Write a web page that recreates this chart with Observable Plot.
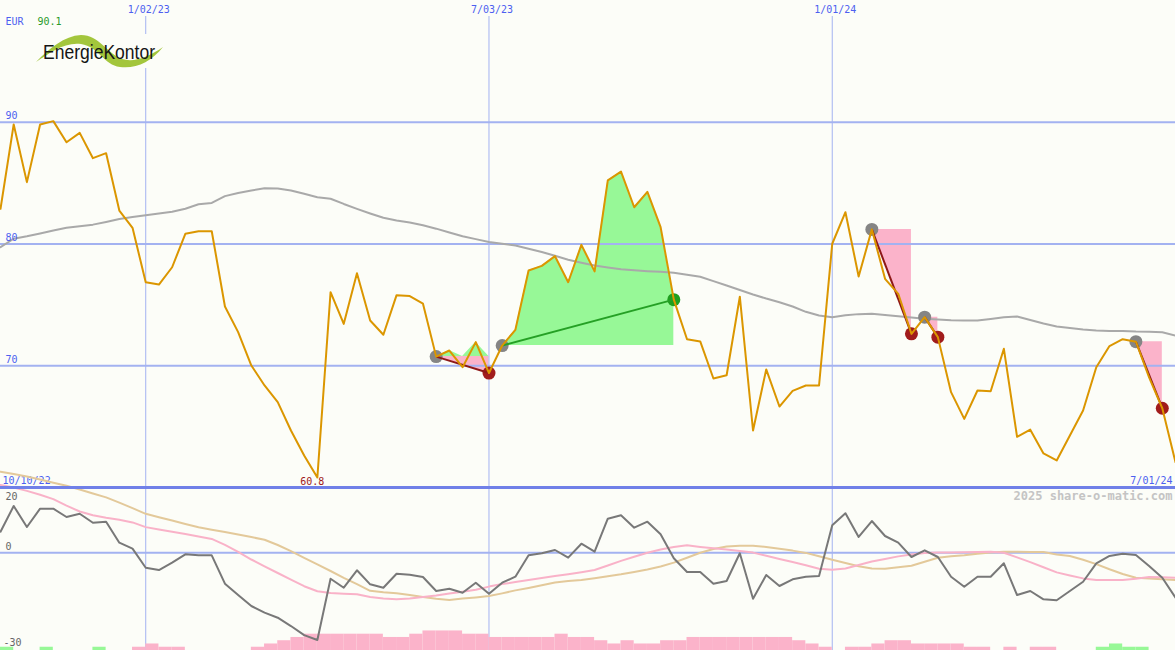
<!DOCTYPE html>
<html>
<head>
<meta charset="utf-8">
<script src="https://cdn.jsdelivr.net/npm/d3@7"></script>
<script src="https://cdn.jsdelivr.net/npm/@observablehq/plot@0.6"></script>
<style>
  body { margin: 0; background: #fcfdf8; }
  #wrap { position: relative; width: 1175px; height: 650px; background: #fcfdf8; overflow: hidden; }
  #top { position: absolute; left: 0; top: 0; }
  #bottom { position: absolute; left: 0; top: 487px; }
  #logo { position: absolute; left: 0; top: 0; pointer-events: none; }
</style>
</head>
<body>
<div id="wrap">
  <div id="top"></div>
  <div id="bottom"></div>
  <svg id="logo" width="200" height="80">
    <rect x="30" y="34" width="136" height="34" fill="#fcfdf8"></rect>
    <path d="M36,62 C50,48 64,36 81,35 C99,35 108,54 122,59 C135,63 150,56 163,47 C151,62 136,69 120,67 C104,65 99,47 81,44 C64,42 50,53 36,62 Z" fill="#a3c63c"></path>
    <text x="43" y="59" font-family="Liberation Sans" font-size="20" textLength="112" lengthAdjust="spacingAndGlyphs" fill="#151515">EnergieKontor</text>
  </svg>
</div>
<script>
// ---------- data ----------
const startWeek = "2022-10-17";
const endWeek = "2024-07-01";
const currency = "EUR";

const price = [82.89, 89.82, 85.08, 89.82, 90.09, 88.36, 89.13, 87.05, 87.46, 82.75,
  81.33, 76.86, 76.67, 78.09, 80.84, 81.05, 81.05, 74.87, 72.76, 70.02,
  68.38, 67.01, 64.68, 62.63, 60.82, 76.04, 73.44, 77.60, 73.72, 72.55,
  75.80, 75.72, 75.10, 70.75, 71.25, 69.88, 71.94, 69.40, 71.66, 72.95,
  77.82, 78.20, 79.00, 76.86, 79.93, 77.75, 85.22, 85.95, 83.02, 84.28,
  81.38, 75.43, 72.18, 72.00, 68.95, 69.22, 75.67, 64.68, 69.70, 66.65,
  67.94, 68.38, 68.38, 80.02, 82.61, 77.33, 81.20, 77.14, 75.91, 72.62,
  73.99, 72.35, 67.83, 65.64, 67.97, 67.90, 71.39, 64.16, 64.75, 62.80,
  62.22, 64.27, 66.32, 69.88, 71.62, 72.18, 71.98, 69.05, 66.51, 62.08];

const movingAvg = [79.74, 80.43, 80.63, 80.86, 81.11, 81.33, 81.46, 81.59, 81.81, 82.05,
  82.21, 82.37, 82.51, 82.65, 82.90, 83.26, 83.37, 83.93, 84.19, 84.39,
  84.58, 84.56, 84.39, 84.12, 83.84, 83.72, 83.29, 82.89, 82.51, 82.15,
  81.93, 81.77, 81.54, 81.26, 80.94, 80.63, 80.40, 80.16, 80.02, 79.88,
  79.61, 79.34, 79.03, 78.71, 78.46, 78.23, 78.07, 77.92, 77.84, 77.77,
  77.72, 77.63, 77.48, 77.31, 76.95, 76.59, 76.22, 75.85, 75.52, 75.22,
  74.87, 74.43, 74.13, 73.99, 74.14, 74.24, 74.27, 74.17, 74.07, 73.96,
  73.86, 73.80, 73.74, 73.72, 73.72, 73.84, 73.98, 74.05, 73.76, 73.47,
  73.22, 73.10, 72.98, 72.90, 72.85, 72.85, 72.81, 72.80, 72.75, 72.48];

const momentum = [6.44, 14.33, 7.88, 13.5, 13.5, 10.95, 11.96, 9.2, 9.51, 3.07,
  1.23, -4.6, -5.31, -3.07, -0.49, -0.8, -0.8, -9.51, -12.98, -16.35,
  -18.4, -19.94, -22.5, -25.3, -26.78, -7.98, -10.74, -5.4, -9.7, -10.74,
  -6.44, -6.75, -7.45, -11.75, -11.04, -12.27, -9.2, -12.58, -9.2, -7.36,
  -0.8, -0.18, 0.83, -1.53, 2.76, 0.31, 10.43, 11.47, 7.67, 9.51,
  5.64, -1.72, -5.92, -5.92, -9.51, -8.68, -0.18, -14.11, -6.84, -10.21,
  -8.16, -7.36, -7.15, 8.4, 12.09, 4.82, 9.72, 5.12, 3.07, -1.32,
  0.74, -1.32, -7.36, -10.43, -7.36, -7.36, -3.25, -12.98, -11.75, -14.29,
  -14.6, -11.75, -8.9, -3.25, -1.01, -0.31, -0.71, -4.08, -7.67, -13.8];

const signalPink = [20.77, 19.97, 18.96, 17.76, 16.44, 14.45, 12.64, 11.47, 10.71, 10.12,
  9.29, 7.85, 7.09, 6.41, 5.74, 5.0, 4.23, 2.39, 0.28, -2.09,
  -4.17, -6.23, -8.25, -10.28, -11.84, -12.36, -12.58, -12.76, -13.59, -14.05,
  -14.26, -14.02, -13.62, -13.16, -12.55, -11.96, -11.35, -10.4, -9.63, -9.02,
  -8.4, -7.79, -7.18, -6.6, -5.98, -5.31, -3.93, -2.52, -1.26, 0.0,
  1.01, 1.75, 2.27, 1.78, 1.35, 0.95, 0.52, 0.03, -0.95, -1.93,
  -2.88, -3.87, -4.91, -5.21, -4.82, -3.77, -2.7, -1.9, -1.13, -0.55,
  -0.09, 0.03, 0.09, 0.15, 0.21, 0.28, -0.03, -1.44, -2.88, -4.45,
  -6.04, -6.99, -7.88, -8.37, -8.37, -8.37, -7.98, -7.45, -7.55, -7.67];

const signalTan = [24.85, 24.11, 23.37, 22.48, 21.47, 20.52, 19.36, 18.16, 16.96, 15.34,
  13.65, 11.93, 10.89, 9.85, 8.83, 7.79, 7.06, 6.32, 5.55, 4.79,
  3.96, 2.36, 0.46, -1.56, -3.59, -5.61, -7.7, -9.66, -11.69, -12.12,
  -12.45, -13.01, -13.59, -14.14, -14.48, -14.08, -13.71, -13.31, -12.48, -11.56,
  -10.8, -9.97, -9.17, -8.68, -8.34, -7.82, -7.21, -6.6, -5.89, -5.15,
  -4.23, -3.04, -1.56, -0.03, 1.13, 1.87, 2.12, 2.12, 1.78, 1.23,
  0.64, -0.06, -1.1, -2.15, -3.16, -4.17, -4.85, -4.91, -4.45, -4.02,
  -2.79, -1.56, -1.07, -0.77, -0.34, 0.09, 0.31, 0.28, 0.25, 0.21,
  -0.55, -1.01, -2.18, -3.5, -5.09, -6.53, -7.7, -7.94, -8.16, -8.37];

const barLevels = [1, 0, 0, 1, 0, 0, 0, 1, 0, 0,
  -1, -2, -1, -1, 0, 0, 0, 0, 0, -1,
  -2, -3, -4, -5, -5, -5, -5, -5, -5, -4,
  -4, -5, -6, -6, -6, -5, -5, -4, -4, -4,
  -4, -4, -5, -4, -4, -3, -2, -3, -2, -2,
  -3, -3, -4, -4, -4, -4, -4, -4, -4, -4,
  -3, -2, -1, 0, -1, -1, -2, -3, -3, -2,
  -2, -2, -2, -1, -1, 0, -1, 0, -1, -1,
  0, 0, 0, 1, 2, 1, 1, 0, 0, 0];

const priceTicks = [70, 80, 90];
const priceDomain = [60, 100];
const lowerDomain = [-30, 20];
const lowerLabelTop = "20", lowerLabelZero = "0", lowerLabelBottom = "-30";
const dateTicks = ["2023-01-02", "2023-07-03", "2024-01-01"];
const dateTickLabels = ["1/02/23", "7/03/23", "1/01/24"];
const firstDateLabel = "10/10/22";
const lastDateLabel = "7/01/24";
const watermark = "2025 share-o-matic.com";

const signals = [
  {start: "2023-06-05", end: "2023-07-03", dir: "down"},
  {start: "2023-07-10", end: "2023-10-09", dir: "up"},
  {start: "2024-01-22", end: "2024-02-12", dir: "down"},
  {start: "2024-02-19", end: "2024-02-26", dir: "down"},
  {start: "2024-06-10", end: "2024-06-24", dir: "down"}
];

// ---------- styling ----------
const BG = "#fcfdf8";
const GRID = "#a3b2f1";
const SEP = "#7080e8";
const BLUE = "#4d5ff0";
const FONT = "DejaVu Sans Mono";

// ---------- build tables ----------
const weeks = d3.utcMonday.range(new Date(startWeek), d3.utcDay.offset(new Date(endWeek), 1));
const rows = weeks.map((date, i) => ({
  date, price: price[i], ma: movingAvg[i], mom: momentum[i],
  pink: signalPink[i], tan: signalTan[i], bar: barLevels[i],
  next: d3.utcWeek.offset(date, 1)
}));
const tickDates = dateTicks.map(d => new Date(d));
const xDomain = [new Date(startWeek), new Date(endWeek)];
const findIdx = s => weeks.findIndex(w => +w === +new Date(s));

const sig = signals.map((s, k) => {
  const si = findIdx(s.start), ei = findIdx(s.end);
  return {k, dir: s.dir, si, ei, d1: weeks[si], d2: weeks[ei], p1: price[si], p2: price[ei]};
});
const greenRows = sig.flatMap(s => rows.slice(s.si, s.ei + 1).map(r => ({
  date: r.date, base: s.p1, up: Math.max(r.price, s.p1), k: s.k
})));
const pinkRows = sig.filter(s => s.dir === "down").flatMap(s => [
  {date: s.d1, base: s.p1, y2: s.p1, k: s.k},
  {date: s.d2, base: s.p1, y2: s.p2, k: s.k}
]);
const minRow = d3.least(rows, r => r.price);
const maxPrice = d3.max(price);

const T = {lineAnchor: "middle"};

// ---------- top panel ----------
const topPlot = Plot.plot({
  width: 1175, height: 487,
  marginTop: 0, marginRight: 0, marginBottom: 0, marginLeft: 0,
  x: {type: "utc", domain: xDomain, axis: null},
  y: {domain: priceDomain, axis: null},
  style: {background: BG, fontFamily: FONT, fontSize: "10px", overflow: "visible"},
  marks: [
    Plot.areaY(greenRows, {x: "date", y1: "base", y2: "up", z: "k", fill: "#97f897"}),
    Plot.areaY(pinkRows, {x: "date", y1: "base", y2: "y2", z: "k", fill: "#fbb3ca"}),
    Plot.ruleY(priceTicks, {stroke: GRID, strokeWidth: 2}),
    Plot.ruleX(tickDates, {stroke: GRID, strokeWidth: 1, insetTop: 16}),
    Plot.line(rows, {x: "date", y: "ma", stroke: "#a9a9a9", strokeWidth: 2}),
    Plot.dot(sig, {x: "d1", y: "p1", r: 6.5, fill: "#858585"}),
    Plot.dot(sig.filter(s => s.dir === "down"), {x: "d2", y: "p2", r: 6.5, fill: "#a11c1c"}),
    Plot.dot(sig.filter(s => s.dir === "up"), {x: "d2", y: "p2", r: 6.5, fill: "#1f9f1f"}),
    Plot.link(sig.filter(s => s.dir === "down"), {x1: "d1", y1: "p1", x2: "d2", y2: "p2", stroke: "#8e1818", strokeWidth: 2}),
    Plot.link(sig.filter(s => s.dir === "up"), {x1: "d1", y1: "p1", x2: "d2", y2: "p2", stroke: "#25a025", strokeWidth: 2}),
    Plot.line(rows, {x: "date", y: "price", stroke: "#db9600", strokeWidth: 2}),
    Plot.text(priceTicks, {...T, y: d => d, text: d => String(d), frameAnchor: "left", dx: 5, dy: -6, textAnchor: "start", fill: BLUE}),
    Plot.text(tickDates, {...T, x: d => d, text: (d, i) => dateTickLabels[i], frameAnchor: "top", dy: 9, dx: 3, fill: BLUE}),
    Plot.text([currency], {...T, text: d => d, frameAnchor: "top-left", dx: 5, dy: 21, textAnchor: "start", fill: BLUE}),
    Plot.text([maxPrice], {...T, text: d => d3.format(".1f")(d), frameAnchor: "top-left", dx: 37, dy: 21, textAnchor: "start", fill: "#2a9a2a"}),
    Plot.text([minRow], {...T, x: "date", y: "price", text: d => d.price.toFixed(1), dx: -5, dy: 4, fill: "#a01818"}),
    Plot.text([firstDateLabel], {...T, text: d => d, frameAnchor: "bottom-left", dx: 2, dy: -7, textAnchor: "start", fill: BLUE}),
    Plot.text([lastDateLabel], {...T, text: d => d, frameAnchor: "bottom-right", dx: -3, dy: -7, textAnchor: "end", fill: BLUE})
  ]
});
document.getElementById("top").appendChild(topPlot);

// ---------- bottom panel ----------
const barRows = rows.filter(r => r.bar !== 0);
const bottomPlot = Plot.plot({
  width: 1175, height: 163,
  marginTop: 0, marginRight: 0, marginBottom: 0, marginLeft: 0,
  x: {type: "utc", domain: xDomain, axis: null},
  y: {domain: lowerDomain, axis: null},
  style: {background: "transparent", fontFamily: FONT, fontSize: "10px", overflow: "visible"},
  marks: [
    Plot.ruleY([0], {stroke: GRID, strokeWidth: 2}),
    Plot.ruleX(tickDates, {stroke: GRID, strokeWidth: 1}),
    Plot.rectY(barRows.filter(r => r.bar > 0), {x1: "date", x2: "next", y1: () => lowerDomain[0], y2: d => lowerDomain[0] + d.bar, fill: "#97f897"}),
    Plot.rectY(barRows.filter(r => r.bar < 0), {x1: "date", x2: "next", y1: () => lowerDomain[0], y2: d => lowerDomain[0] - d.bar, fill: "#fbb3ca"}),
    Plot.line(rows, {x: "date", y: "tan", stroke: "#e3c99a", strokeWidth: 2}),
    Plot.line(rows, {x: "date", y: "pink", stroke: "#f9b2c8", strokeWidth: 2}),
    Plot.line(rows, {x: "date", y: "mom", stroke: "#787878", strokeWidth: 2}),
    Plot.ruleY([lowerDomain[1]], {stroke: SEP, strokeWidth: 3}),
    Plot.text([lowerLabelTop], {...T, text: d => d, frameAnchor: "top-left", dx: 5, dy: 9, textAnchor: "start", fill: "#666"}),
    Plot.text([0], {...T, y: d => d, text: () => lowerLabelZero, frameAnchor: "left", dx: 5, dy: -6, textAnchor: "start", fill: "#666"}),
    Plot.text([lowerLabelBottom], {...T, text: d => d, frameAnchor: "bottom-left", dx: 3, dy: -8, textAnchor: "start", fill: "#666"}),
    Plot.text([watermark], {...T, text: d => d, frameAnchor: "top-right", dx: -3, dy: 9, textAnchor: "end", fill: "#c4c4c4", fontWeight: "bold", fontSize: 12})
  ]
});
document.getElementById("bottom").appendChild(bottomPlot);
</script>
</body>
</html>
